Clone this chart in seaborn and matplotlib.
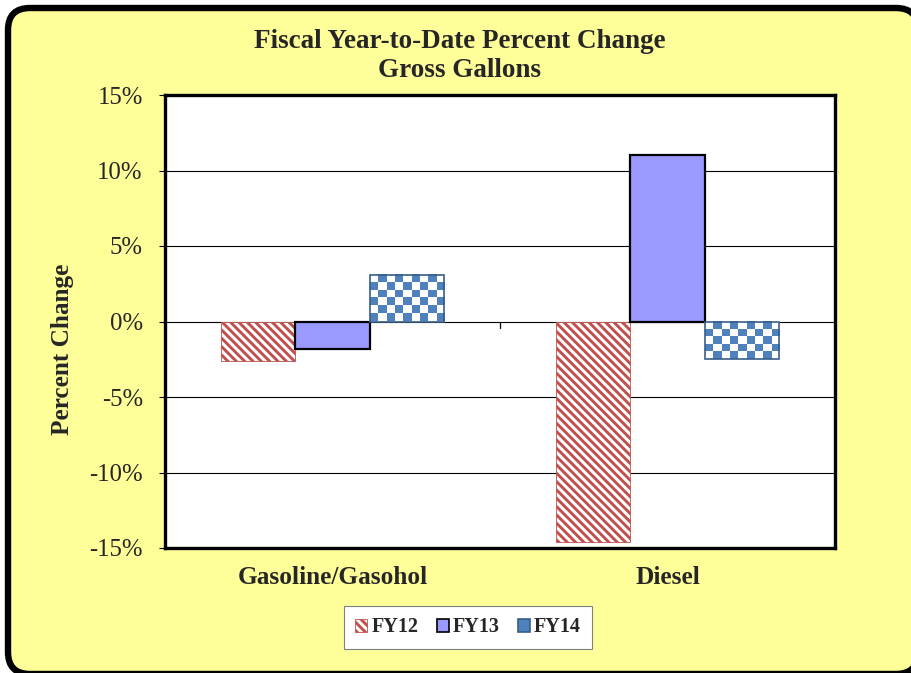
import numpy as np
import pandas as pd
import matplotlib
matplotlib.use("Agg")
import matplotlib.pyplot as plt
import seaborn as sns
from matplotlib.patches import FancyBboxPatch, Patch
from matplotlib.colors import ListedColormap
from matplotlib.ticker import FuncFormatter, FixedLocator
from matplotlib.transforms import IdentityTransform

# ---- data ----
categories = ["Gasoline/Gasohol", "Diesel"]
series = ["FY12", "FY13", "FY14"]
fy12 = [-2.6, -14.6]
fy13 = [-1.85, 11.0]
fy14 = [3.05, -2.5]
y_ticks = [-15, -10, -5, 0, 5, 10, 15]

sns.set_theme(style="white")
plt.rcParams["font.family"] = ["Liberation Serif", "DejaVu Serif"]
plt.rcParams["axes.unicode_minus"] = False
plt.rcParams["hatch.linewidth"] = 2.1

df = pd.DataFrame({
    "Category": categories * 3,
    "Series": [s for s in series for _ in categories],
    "Value": fy12 + fy13 + fy14,
})

W, H = 912, 673
fig = plt.figure(figsize=(W / 100, H / 100), dpi=100, facecolor="white")

bg = FancyBboxPatch((8, -1), W + 6 - 8, H + 1 - 8,
                    boxstyle="round,pad=0,rounding_size=22",
                    transform=IdentityTransform(), facecolor="#FFFF99",
                    edgecolor="black", linewidth=4.6, zorder=-10)
fig.add_artist(bg)

ax = fig.add_axes([165 / W, 1 - 548 / H, 670 / W, 453 / H])
ax.set_facecolor("white")

red = "#C0504D"
purple = "#9999FF"
blue = "#4F81BD"
dblue = "#385D8A"

sns.barplot(data=df, x="Category", y="Value", hue="Series", order=categories,
            hue_order=series, width=0.663, palette=[red, purple, blue],
            saturation=1, legend=False, ax=ax)

ax.set_xlim(-0.5, 1.5)
ax.set_ylim(-15, 15)

c12, c13, c14 = ax.containers[:3]
for r in c12:
    r.set_facecolor("white")
    r.set_edgecolor(red)
    r.set_hatch("\\\\\\\\")
    r.set_linewidth(0.6)
for r in c13:
    r.set_facecolor(purple)
    r.set_edgecolor("black")
    r.set_linewidth(1.6)

cmap = ListedColormap(["white", blue])
cell = 8.0
for r in c14:
    x0, w = r.get_x(), r.get_width()
    y0, h = r.get_y(), r.get_height()
    ylo, yhi = min(y0, y0 + h), max(y0, y0 + h)
    p0 = ax.transData.transform((x0, ylo))
    p1 = ax.transData.transform((x0 + w, yhi))
    nx = max(1, int(round((p1[0] - p0[0]) / cell)))
    ny = max(1, int(round((p1[1] - p0[1]) / cell)))
    arr = (np.add.outer(np.arange(ny), np.arange(nx)) % 2).astype(float)
    ax.imshow(arr, extent=[x0, x0 + w, ylo, yhi], cmap=cmap, vmin=0, vmax=1,
              interpolation="nearest", aspect="auto", zorder=0.9)
    r.set_facecolor("none")
    r.set_edgecolor(dblue)
    r.set_linewidth(1.2)

ax.set_xlim(-0.5, 1.5)
ax.set_ylim(-15, 15)

# category separator tick on the zero line
ax.axvline(0.5, ymin=0.5 - 6 / 453, ymax=0.5, color="black", linewidth=0.9)

# axes styling
ax.set_axisbelow(True)
ax.yaxis.set_major_locator(FixedLocator(y_ticks))
ax.yaxis.set_major_formatter(FuncFormatter(lambda v, p: f"{int(round(v))}%"))
ax.yaxis.grid(True, color="black", linewidth=0.8)
ax.xaxis.grid(False)
for s in ax.spines.values():
    s.set_color("black")
    s.set_linewidth(2.4)
ax.tick_params(axis="y", which="major", left=True, length=4, width=0.8,
               color="black", direction="out", pad=12, labelsize=17.8)
ax.tick_params(axis="x", length=0, pad=13, labelsize=18.2)
for t in ax.get_xticklabels():
    t.set_fontweight("bold")
ax.set_xlabel("")
ax.set_ylabel("")

fig.text(63 / W, 1 - 349 / H, "Percent Change", rotation=90, ha="center",
         va="center", fontsize=18.2, fontweight="bold")
fig.text(460 / W, 1 - 56 / H, "Fiscal Year-to-Date Percent Change\nGross Gallons",
         ha="center", va="center", fontsize=19.5, fontweight="bold",
         linespacing=1.25)

handles = [
    Patch(facecolor="white", edgecolor=red, hatch="\\\\\\\\", linewidth=0.6),
    Patch(facecolor=purple, edgecolor="black", linewidth=1.2),
    Patch(facecolor=blue, edgecolor=dblue, linewidth=1.2),
]
leg = fig.legend(handles, series, loc="center",
                 bbox_to_anchor=(468 / W, 1 - 627.5 / H), ncol=3,
                 frameon=True, fancybox=False, framealpha=1,
                 edgecolor="#808080", prop={"weight": "bold", "size": 14.5},
                 handlelength=0.6, handleheight=0.6, handletextpad=0.2,
                 columnspacing=0.9, borderpad=0.55, borderaxespad=0)
leg.get_frame().set_linewidth(0.8)

fig.savefig("out.png", dpi=100, facecolor="white")
